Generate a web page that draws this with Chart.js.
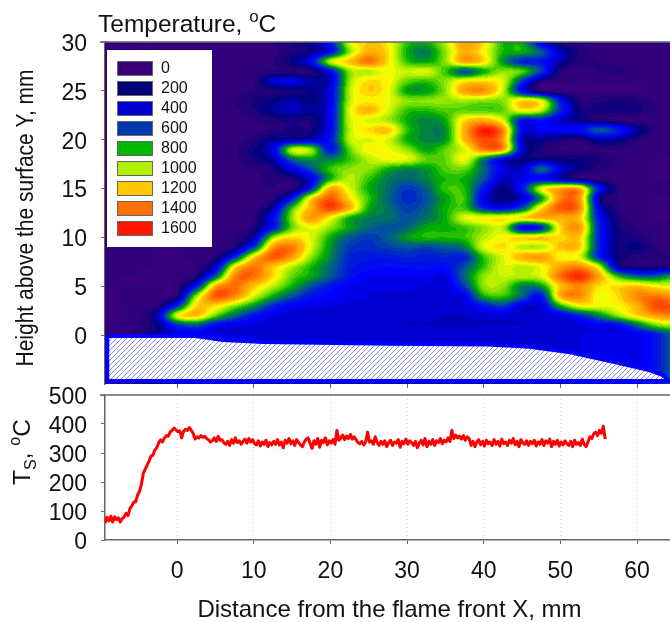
<!DOCTYPE html>
<html>
<head>
<meta charset="utf-8">
<script src="https://cdn.jsdelivr.net/npm/chart.js@4"></script>
<style>
  html, body { margin: 0; padding: 0; background: #fff; overflow: hidden; }
  canvas { position: absolute; left: 0; }
  #mapChart { top: 0; }
  #tsChart { top: 360px; }
</style>
</head>
<body>
<canvas id="mapChart" width="670" height="420"></canvas>
<canvas id="tsChart" width="670" height="262"></canvas>
<script>
// Tick labels
const xTicks = [0, 10, 20, 30, 40, 50, 60];
const heightTicks = [0, 5, 10, 15, 20, 25, 30];
const tsTicks = [0, 100, 200, 300, 400, 500];

// Legend
const legendLevels = [0, 200, 400, 600, 800, 1000, 1200, 1400, 1600];
const legendColors = ['#3a0078', '#000078', '#0000d0', '#0038b0', '#00b800', '#b0f000', '#ffc800', '#ff7000', '#ff1800'];

// Temperature field, deg C. One row per height, top row first
const gridX = [-10, -7.5, -5, -2.5, 0, 2.5, 5, 7.5, 10, 12.5, 15, 17.5, 20, 22.5, 25, 27.5, 30, 32.5, 35, 37.5, 40, 42.5, 45, 47.5, 50, 52.5, 55, 57.5, 60, 62.5, 65];
const gridY = [30, 29, 28, 27, 26, 25, 24, 23, 22, 21, 20, 19, 18, 17, 16, 15, 14, 13, 12, 11, 10, 9, 8, 7, 6, 5, 4, 3, 2, 1, 0];
const tempGrid = [
  [60,60,60,60,70,70,70,70,80,100,150,220,450,1050,1180,1120,850,800,1000,1300,1150,820,780,350,130,100,80,70,70,70,70],
  [60,60,60,60,70,70,70,70,80,90,130,200,400,950,1250,1150,800,700,950,1250,1100,820,800,620,300,130,90,80,70,70,70],
  [60,60,60,60,70,70,70,70,80,100,200,400,1000,1200,1400,1150,850,780,950,1280,1150,750,500,450,250,120,100,90,80,70,70],
  [60,60,60,60,70,70,70,80,90,110,120,130,400,950,1000,1080,1020,1050,850,600,800,950,880,550,130,90,100,110,80,70,70],
  [60,60,60,60,70,70,70,80,100,300,350,250,300,950,1150,1100,900,850,950,1120,1150,1050,550,150,80,70,70,70,70,70,70],
  [60,60,60,60,70,70,70,90,100,130,160,200,350,1000,1180,1080,780,760,950,1280,1330,1020,400,100,70,60,60,60,60,70,70],
  [60,60,60,60,70,70,70,100,150,200,260,200,350,1000,1120,1080,950,950,960,980,950,950,1150,1050,450,130,130,150,130,90,70],
  [60,60,60,60,70,70,70,90,130,230,300,230,380,1050,1230,1050,850,830,880,900,880,900,1100,1000,500,180,160,170,150,100,70],
  [60,60,60,60,70,70,70,80,100,130,160,150,380,1020,1050,980,800,720,800,1150,1250,1050,450,450,300,200,150,100,80,70,70],
  [60,60,60,60,70,70,70,80,90,110,160,170,400,1000,1150,1200,850,720,750,1250,1580,1350,400,380,400,420,620,480,250,100,70],
  [60,60,60,60,60,70,70,80,120,220,240,300,450,1000,1050,1050,800,730,760,1220,1480,1300,300,220,150,120,250,220,120,70,60],
  [60,60,60,60,60,70,70,90,180,350,1000,950,450,900,1100,1080,950,780,900,1050,1380,1300,350,150,100,90,100,100,80,70,60],
  [60,60,60,60,60,70,70,90,150,250,650,750,700,850,1000,1080,1060,900,900,1080,700,350,200,200,180,180,150,100,80,60,60],
  [60,60,60,60,60,70,70,80,100,150,350,600,850,950,950,800,720,750,880,900,650,350,300,650,350,200,120,90,70,60,60],
  [60,60,70,70,60,70,70,80,90,120,130,350,800,1000,850,700,660,720,820,800,600,300,350,400,300,150,100,80,70,60,60],
  [60,60,60,60,60,70,70,70,90,100,110,500,1250,1050,800,680,540,640,850,820,450,200,450,1050,1250,1250,450,120,80,70,60],
  [60,60,60,60,60,70,70,70,80,100,450,1150,1450,1150,850,650,520,600,780,850,350,200,300,750,1350,1300,250,100,70,60,60],
  [60,60,60,60,60,70,70,70,80,250,850,1250,1500,1250,800,680,560,640,800,850,500,400,600,1150,1450,1350,350,120,70,60,60],
  [60,60,60,60,60,70,70,80,110,400,950,1300,1100,800,700,680,600,680,800,1050,1100,1120,1150,1250,1250,1200,450,150,80,60,60],
  [60,60,60,60,60,70,70,90,130,450,900,1080,950,780,650,600,650,780,800,850,950,1000,400,500,1150,1300,500,180,100,70,60],
  [60,60,60,60,60,70,70,110,250,950,1150,1050,800,620,550,620,760,820,820,850,1000,1100,1150,1180,1150,1180,500,200,150,80,60],
  [60,60,60,60,60,70,80,150,550,1300,1380,1050,750,550,520,560,600,580,620,700,1050,1150,1000,1000,1200,1180,500,180,200,100,70],
  [60,60,60,60,60,70,130,500,1150,1450,1300,950,720,500,470,470,500,480,500,500,850,1050,1250,1300,1100,1050,500,200,120,120,100],
  [60,60,60,60,60,80,300,1100,1380,1200,1000,820,650,480,440,420,430,440,430,600,850,1050,1000,1080,1280,1350,1050,250,150,150,150],
  [60,60,60,60,70,150,650,1350,1400,1150,900,780,620,450,380,380,380,380,350,650,950,1020,1000,1050,1400,1550,1280,850,650,650,800],
  [60,60,60,60,90,450,1250,1400,1200,1000,800,600,450,380,350,350,350,340,320,550,950,950,700,750,1200,1350,1150,1150,1200,1100,1050],
  [60,60,70,80,150,950,1450,1350,1050,800,600,450,400,360,340,330,330,320,320,380,800,850,650,450,1250,1350,1080,1150,1350,1380,1300],
  [60,60,70,120,500,1150,1150,950,750,500,380,350,340,330,330,320,320,320,310,320,450,550,330,350,800,1080,1080,1100,1250,1480,1450],
  [60,60,90,300,1050,1200,900,650,450,350,330,320,320,320,320,320,310,310,300,300,320,330,310,320,350,500,700,950,1150,1300,1350],
  [60,70,100,200,500,600,400,350,340,330,320,320,320,320,320,310,300,300,290,290,300,300,300,310,320,340,380,400,650,900,1000],
  [80,90,130,220,330,340,340,340,340,340,340,340,340,340,340,340,340,340,340,340,340,340,340,340,340,340,350,350,360,450,650]
];

// Colour ramp of the contour map
const rampLevels = [0, 100, 200, 300, 400, 500, 600, 700, 800, 900, 1000, 1100, 1200, 1300, 1400, 1500, 1600];
const rampColors = [
  [62,0,130], [46,0,122], [0,0,128], [0,0,200], [0,0,255], [0,32,208], [0,80,160], [0,120,80],
  [0,176,0], [96,216,0], [184,240,0], [255,255,0], [255,192,0], [255,160,0], [255,112,0], [255,64,0], [255,16,0]
];

// Sample cross section, mm
const surfaceX = [-9.1, 2.4, 6, 11.2, 27.8, 40.5, 46, 51.3, 57.8, 61.7, 63.4, 64.2, -9.1, -9.1];
const surfaceY = [-0.1, -0.1, -0.5, -0.7, -0.87, -0.97, -1.2, -1.75, -2.87, -3.6, -4.1, -4.7, -4.7, -0.1];

// Surface temperature, read every 0.25 mm starting at the left edge
const tsStartX = -9.4;
const tsStepX = 0.25;
const tsValues = [
  58,78,66,82,62,80,70,76,62,74,80,92,84,108,118,130,132,155,168,192,230,245,258,272,290,292,310,318,335,345,338,352,360,358,372,378,386,380,374,376,352,375,382,378,388,378,368,348,356,352,360,354,358,350,346,338,342,352,340,358,344,346,336,
  330,340,326,346,334,352,336,342,330,340,348,334,350,338,346,332,328,342,324,338,
  330,344,322,336,328,340,330,346,328,338,318,344,334,350,332,342,326,346,336,328,
  322,338,348,352,334,316,342,330,350,320,344,336,352,328,342,334,346,330,378,344,
  352,362,346,358,350,364,348,356,346,336,332,340,328,338,372,338,342,330,356,336,
  326,340,330,342,322,336,344,326,338,334,346,320,340,332,348,330,342,336,326,340,
  318,334,344,328,350,322,340,330,346,326,342,336,350,332,344,338,352,340,378,350,
  362,352,358,348,360,344,356,350,326,340,322,338,346,328,340,324,344,332,338,326,
  346,330,340,324,348,332,338,326,344,334,350,328,340,322,346,336,330,342,326,340,
  332,344,324,338,330,346,326,342,334,348,322,340,330,344,324,338,328,342,332,326,
  340,322,344,330,336,326,348,330,322,338,356,350,366,372,360,378,368,392,348
];

Chart.defaults.font.family = '"Liberation Sans", Arial, sans-serif';
Chart.defaults.color = '#111';
Chart.defaults.animation = false;

const AXIS_COLOR = '#666';
const X_MIN = -9.4;
const X_MAX = 64.3;
const TS_TOP = 360;

// Catmull-Rom through 4 neighbours
function cubic(a, b, c, d, t) {
  return b + 0.5 * t * (c - a + t * (2 * a - 5 * b + 4 * c - d + t * (3 * (b - c) + d - a)));
}

function tempAt(x, y) {
  const fx = Math.min(Math.max((x - gridX[0]) / 2.5, 0), gridX.length - 1.001);
  const fy = Math.min(Math.max(gridY[0] - y, 0), gridY.length - 1.001);
  const ix = Math.floor(fx), iy = Math.floor(fy);
  const rows = [];
  for (let r = iy - 1; r <= iy + 2; r++) {
    const row = tempGrid[Math.min(Math.max(r, 0), gridY.length - 1)];
    const at = c => row[Math.min(Math.max(c, 0), gridX.length - 1)];
    rows.push(cubic(at(ix - 1), at(ix), at(ix + 1), at(ix + 2), fx - ix));
  }
  return cubic(rows[0], rows[1], rows[2], rows[3], fy - iy);
}

function colorFor(v) {
  // contour bands, 40 deg wide
  const band = Math.min(Math.max(Math.round(v / 40) * 40, 0), 1600);
  let i = 0;
  while (i < rampLevels.length - 2 && band > rampLevels[i + 1]) i++;
  const t = (band - rampLevels[i]) / (rampLevels[i + 1] - rampLevels[i]);
  return rampColors[i].map((c, k) => c + (rampColors[i + 1][k] - c) * t);
}

// Draw the temperature field through the chart's scales
const contourPlugin = {
  id: 'contour',
  beforeDatasetsDraw(chart) {
    const { ctx, chartArea: a, scales } = chart;
    const w = Math.round(a.right - a.left), h = Math.round(a.bottom - a.top);
    const off = document.createElement('canvas');
    off.width = w;
    off.height = h;
    const octx = off.getContext('2d');
    const img = octx.createImageData(w, h);
    for (let py = 0; py < h; py++) {
      const yVal = scales.y.getValueForPixel(a.top + py + 0.5);
      for (let px = 0; px < w; px++) {
        const xVal = scales.x.getValueForPixel(a.left + px + 0.5);
        const c = colorFor(tempAt(xVal, yVal));
        const o = (py * w + px) * 4;
        img.data[o] = c[0];
        img.data[o + 1] = c[1];
        img.data[o + 2] = c[2];
        img.data[o + 3] = 255;
      }
    }
    octx.putImageData(img, 0, 0);
    ctx.drawImage(off, a.left, a.top);
  }
};

// White box with the colour key, top left of the map
const keyPlugin = {
  id: 'key',
  afterDatasetsDraw(chart) {
    const { ctx, chartArea: a } = chart;
    ctx.save();
    ctx.fillStyle = '#fff';
    ctx.fillRect(a.left + 2, a.top + 8, 105, 197);
    ctx.font = '16px "Liberation Sans", Arial, sans-serif';
    ctx.textBaseline = 'middle';
    legendLevels.forEach((lvl, i) => {
      const top = a.top + 19 + i * 20;
      ctx.fillStyle = legendColors[i];
      ctx.fillRect(a.left + 12, top, 36, 15);
      ctx.strokeStyle = '#666';
      ctx.lineWidth = 1;
      ctx.strokeRect(a.left + 12.5, top + 0.5, 35, 14);
      ctx.fillStyle = '#111';
      ctx.fillText(String(lvl), a.left + 56, top + 8);
    });
    ctx.restore();
  }
};

// Line along the top of a panel
const topLinePlugin = {
  id: 'topLine',
  afterDraw(chart) {
    const { ctx, chartArea: a } = chart;
    ctx.save();
    ctx.strokeStyle = AXIS_COLOR;
    ctx.lineWidth = 1.5;
    ctx.beginPath();
    ctx.moveTo(a.left - 5, a.top);
    ctx.lineTo(a.right, a.top);
    ctx.stroke();
    ctx.restore();
  }
};

function textRun(ctx, parts) {
  // parts are drawn one after the other along the baseline
  let x = 0;
  parts.forEach(p => {
    ctx.font = p.size + 'px "Liberation Sans", Arial, sans-serif';
    ctx.fillText(p.text, x, -(p.rise || 0));
    x += ctx.measureText(p.text).width;
  });
}

const mapTextPlugin = {
  id: 'mapText',
  afterDraw(chart) {
    const { ctx } = chart;
    ctx.save();
    ctx.fillStyle = '#111';
    ctx.textBaseline = 'alphabetic';
    ctx.textAlign = 'left';
    ctx.save();
    ctx.translate(98, 32);
    textRun(ctx, [{ text: 'Temperature, ', size: 24.5 }, { text: 'o', size: 17, rise: 10 }, { text: 'C', size: 24.5 }]);
    ctx.restore();
    ctx.save();
    ctx.translate(33, 218);
    ctx.rotate(-Math.PI / 2);
    ctx.textAlign = 'center';
    ctx.font = '23px "Liberation Sans", Arial, sans-serif';
    ctx.fillText('Height above the surface Y, mm', 0, 0, 297);
    ctx.restore();
    ctx.restore();
  }
};

const tsTextPlugin = {
  id: 'tsText',
  afterDraw(chart) {
    const { ctx } = chart;
    ctx.save();
    ctx.fillStyle = '#111';
    ctx.textBaseline = 'alphabetic';
    ctx.textAlign = 'left';
    ctx.save();
    ctx.translate(30, 485 - TS_TOP);
    ctx.rotate(-Math.PI / 2);
    textRun(ctx, [{ text: 'T', size: 24.5 }, { text: 'S', size: 16, rise: -6 }, { text: ', ', size: 24.5 }, { text: 'o', size: 16, rise: 10 }, { text: 'C', size: 24.5 }]);
    ctx.restore();
    ctx.textAlign = 'center';
    ctx.font = '24px "Liberation Sans", Arial, sans-serif';
    ctx.fillText('Distance from the flame front X, mm', 389.5, 617 - TS_TOP);
    ctx.restore();
  }
};

// Hatch for the sample cross section
function hatchPattern() {
  const tile = document.createElement('canvas');
  tile.width = 5;
  tile.height = 5;
  const t = tile.getContext('2d');
  t.fillStyle = '#fff';
  t.fillRect(0, 0, 5, 5);
  t.strokeStyle = '#8a8af0';
  t.lineWidth = 1;
  t.beginPath();
  t.moveTo(-1, 6);
  t.lineTo(6, -1);
  t.moveTo(-1, 1);
  t.lineTo(1, -1);
  t.moveTo(4, 6);
  t.lineTo(6, 4);
  t.stroke();
  return t.createPattern(tile, 'repeat');
}

function fixedTicks(values) {
  return scale => { scale.ticks = values.map(v => ({ value: v })); };
}

// Tick labels sit a little high with canvas middle baseline, push them down
function yAxisFit(scale) {
  scale.width = 105;
  if (!scale.nudged) {
    const drawLabels = scale.drawLabels;
    scale.drawLabels = function (area) {
      this.ctx.save();
      this.ctx.translate(0, 2.5);
      drawLabels.call(this, area);
      this.ctx.restore();
    };
    scale.nudged = true;
  }
}

new Chart(document.getElementById('mapChart'), {
  type: 'scatter',
  data: {
    datasets: [{
      label: 'Sample',
      data: surfaceX.map((x, i) => ({ x: x, y: surfaceY[i] })),
      showLine: true,
      pointRadius: 0,
      borderColor: '#0000ff',
      borderWidth: 4,
      backgroundColor: hatchPattern(),
      fill: 'shape',
      tension: 0
    }]
  },
  options: {
    responsive: false,
    layout: { padding: { top: 42 } },
    plugins: { legend: { display: false }, tooltip: { enabled: false } },
    scales: {
      x: {
        type: 'linear',
        min: X_MIN,
        max: X_MAX,
        afterBuildTicks: fixedTicks(xTicks),
        afterFit: s => { s.height = 36; },
        ticks: { display: false },
        grid: { drawOnChartArea: false, tickLength: 4, color: AXIS_COLOR },
        border: { display: false }
      },
      y: {
        min: -5,
        max: 30,
        afterBuildTicks: fixedTicks(heightTicks),
        afterFit: yAxisFit,
        ticks: { font: { size: 23 }, padding: 14, autoSkip: false },
        grid: { drawOnChartArea: false, tickLength: 4, color: AXIS_COLOR },
        border: { color: AXIS_COLOR, width: 1.5 }
      }
    }
  },
  plugins: [contourPlugin, keyPlugin, topLinePlugin, mapTextPlugin]
});

new Chart(document.getElementById('tsChart'), {
  type: 'scatter',
  data: {
    datasets: [{
      label: 'Ts',
      data: tsValues.map((v, i) => ({ x: tsStartX + i * tsStepX, y: v })),
      showLine: true,
      pointRadius: 0,
      borderColor: '#ff0000',
      borderWidth: 3,
      borderJoinStyle: 'round',
      tension: 0
    }]
  },
  options: {
    responsive: false,
    layout: { padding: { top: 35 } },
    plugins: { legend: { display: false }, tooltip: { enabled: false } },
    scales: {
      x: {
        type: 'linear',
        min: X_MIN,
        max: X_MAX,
        afterBuildTicks: fixedTicks(xTicks),
        afterFit: s => { s.height = 82; },
        ticks: { font: { size: 23 }, padding: 14, maxRotation: 0, autoSkip: false },
        grid: { color: '#d4d4d4', tickColor: AXIS_COLOR, tickLength: 4, tickBorderDash: [] },
        border: { color: AXIS_COLOR, width: 1.5, dash: [1, 3] }
      },
      y: {
        min: 0,
        max: 500,
        afterBuildTicks: fixedTicks(tsTicks),
        afterFit: yAxisFit,
        ticks: { font: { size: 23 }, padding: 14, autoSkip: false },
        grid: { drawOnChartArea: false, tickLength: 4, color: AXIS_COLOR },
        border: { color: AXIS_COLOR, width: 1.5 }
      }
    }
  },
  plugins: [topLinePlugin, tsTextPlugin]
});
</script>
</body>
</html>
